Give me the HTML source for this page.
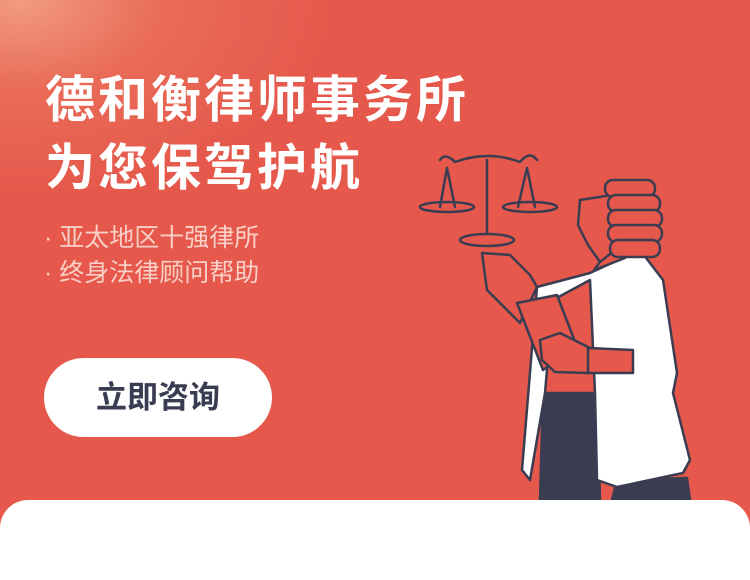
<!DOCTYPE html>
<html><head><meta charset="utf-8"><style>
html,body{margin:0;padding:0}
body{width:750px;height:550px;position:relative;overflow:hidden;background:#e5584b;font-family:"Liberation Sans","Noto Sans CJK SC",sans-serif}
#glow{position:absolute;left:0;top:0;width:750px;height:550px;background:radial-gradient(ellipse 320px 200px at 20px 0px,#f29c80 0%,rgba(236,120,96,0.6) 45%,rgba(229,88,75,0) 100%)}
.t{position:absolute;left:45px;color:#fff;font-weight:bold;font-size:50px;letter-spacing:3px;line-height:56px;white-space:nowrap}
.b{position:absolute;left:44px;color:#f9cfc6;font-size:25px;line-height:30px;white-space:nowrap}
#btn{position:absolute;left:44px;top:358px;width:228px;height:79px;border-radius:40px;background:#fff;color:#3a3d52;font-size:31px;font-weight:bold;text-align:center;line-height:79px}
#panel{position:absolute;left:0;top:500px;width:750px;height:80px;background:#fff;border-radius:28px 28px 0 0}
svg{position:absolute;left:0;top:0}
</style></head><body>
<div id="glow"></div>
<div class="t" style="top:72px">德和衡律师事务所</div>
<div class="t" style="top:140px">为您保驾护航</div>
<div class="b" style="top:223px">· 亚太地区十强律所</div>
<div class="b" style="top:258px">· 终身法律顾问帮助</div>
<div id="btn">立即咨询</div>
<svg width="750" height="550" fill="none" stroke="#3a3d52" stroke-width="2.5" stroke-linejoin="round" stroke-linecap="round">
<path d="M543,393 L597,393 L600,500 L540,500 Z M617,480 L687,478 L690,500 L612,500 Z" fill="#3a3d52"/>
<path d="M537,287 L590,273 L640,250 L663,280 L677,373 L673,393 L690,460 L683,473 L617,487 L597,480 L595,393 L545,393 L530,480 L522,470 Z" fill="#fff"/>
<path d="M553,300 L590,280 L595,393 L545,393 Z" fill="#e5584b"/>
<path d="M482,253 L487,290 L520,323 L537,287 L530,275 L510,255 Z" fill="#e5584b"/>
<path d="M517,303 L557,295 L577,347 L543,370 Z" fill="#e5584b"/>
<path d="M540,340 L560,333 L590,348 L588,373 L555,372 L542,360 Z" fill="#e5584b"/>
<path d="M588,348 L633,350 L633,373 L588,373 Z" fill="#e5584b"/>
<path d="M580,200 L612,195 L618,250 L600,262 L588,245 L578,225 Z" fill="#e5584b"/>
<path d="M594,270 L600,262 L615,250 L625,258 Z" fill="#e5584b"/>
<g fill="#e5584b">
<rect x="605" y="180" width="50" height="17" rx="8"/>
<rect x="608" y="195" width="52" height="17" rx="8"/>
<rect x="608" y="210" width="54" height="17" rx="8"/>
<rect x="608" y="225" width="54" height="17" rx="8"/>
<rect x="610" y="240" width="50" height="17" rx="8"/>
</g>
<path d="M440,160 Q445,152 455,162 Q488,150 520,162 Q530,150 537,160"/>
<path d="M487,160 L487,240"/>
<path d="M447,168 L440,207 M447,168 L455,207 M527,168 L518,207 M527,168 L535,207"/>
<ellipse cx="447" cy="207" rx="27" ry="5"/>
<ellipse cx="530" cy="207" rx="27" ry="5"/>
<ellipse cx="487" cy="240" rx="27" ry="6" fill="#e5584b"/>
</svg>
<div id="panel"></div>
</body></html>
